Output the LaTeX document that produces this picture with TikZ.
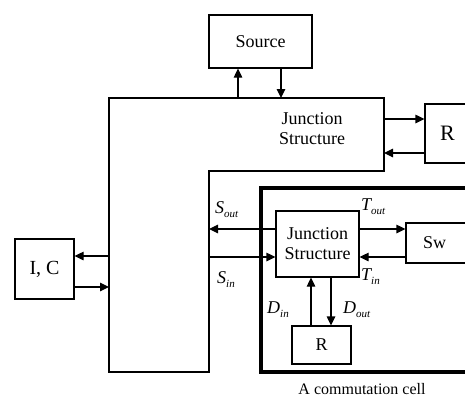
\documentclass[tikz,border=0pt]{standalone}
\usepackage{fontspec}
\setmainfont{Liberation Serif}
\usetikzlibrary{arrows.meta}
\newcommand{\sublbl}[2]{{\fontsize{18}{20}\selectfont\itshape #1\raisebox{-4pt}{\fontsize{11}{12}\selectfont #2}}}
\tikzset{
  x=1pt, y=-1pt,
  box/.style={draw, line width=1.2pt, inner sep=0pt, font=\fontsize{18}{20}\selectfont},
  arr/.style={line width=1.2pt, -{Triangle[length=9pt,width=8.5pt]}},
  ln/.style={line width=1.2pt},
  lbl/.style={anchor=base west, inner sep=0pt},
}
\begin{document}
\begin{tikzpicture}
\useasboundingbox (0,0) rectangle (465,397);
\begin{scope}
\clip (0,0) rectangle (465,397);
% big junction structure outline
\coordinate (J1) at (109,98);
\coordinate (J2) at (384,98);
\coordinate (J3) at (384,171);
\coordinate (J4) at (209,171);
\coordinate (J5) at (209,372);
\coordinate (J6) at (109,372);
\draw[ln] (J1) -- (J2) -- (J3) -- (J4) -- (J5) -- (J6) -- cycle;
\node[font=\fontsize{18}{20}\selectfont, align=center] (jst) at (312,129) {Junction\\Structure};

% source
\node[box, minimum width=103pt, minimum height=53pt] (src) at (260.5,41.5) {Source};
% right R
\node[box, minimum width=45pt, minimum height=59pt, font=\fontsize{22}{24}\selectfont] (rr) at (447.5,133.5) {R};

% commutation cell
\node[draw, line width=4pt, minimum width=214pt, minimum height=184pt, inner sep=0pt] (cell) at (368,280) {};
\node[box, minimum width=83pt, minimum height=66pt, align=center] (js2) at (317.5,244) {Junction\\Structure};
\node[box, minimum width=69pt, minimum height=40pt, text width=69pt, align=left] (sw) at (440.5,243) {\hspace{17pt}Sw};
\node[box, minimum width=59pt, minimum height=38pt] (r2) at (321.5,345) {R};
\node[box, minimum width=59pt, minimum height=60pt, font=\fontsize{20}{22}\selectfont] (ic) at (44.5,269) {I, C};
\end{scope}

% helper coordinates
\coordinate (sA) at ([xshift=-22.5pt]src.south);
\coordinate (sB) at ([xshift=20.5pt]src.south);
\coordinate (rA) at ([yshift=14.5pt]rr.west);
\coordinate (rB) at ([yshift=-19.5pt]rr.west);
\coordinate (iA) at ([yshift=13pt]ic.east);
\coordinate (iB) at ([yshift=-18pt]ic.east);
\coordinate (jA) at ([yshift=15pt]js2.west);
\coordinate (jB) at ([yshift=-13pt]js2.west);
\coordinate (kA) at ([yshift=15pt]js2.east);
\coordinate (kB) at ([yshift=-13pt]js2.east);
\coordinate (dA) at ([xshift=-10.5pt]r2.north);
\coordinate (dB) at ([xshift=9.5pt]r2.north);

% arrows to/from source
\draw[arr] (sA |- J1) -- (sA);
\draw[arr] (sB) -- (sB |- J1);
% arrows to/from right R
\draw[arr] (J2 |- rA) -- (rA);
\draw[arr] (rB) -- (J2 |- rB);
% I, C
\draw[arr] (J1 |- iA) -- (iA);
\draw[arr] (iB) -- (J1 |- iB);
% S arrows
\draw[arr] (jA) -- (J4 |- jA);
\draw[arr] (J4 |- jB) -- (jB);
% T arrows
\draw[arr] (kA) -- (kA -| sw.west);
\draw[arr] (kB -| sw.west) -- (kB);
% D arrows
\draw[arr] (dA) -- (dA |- js2.south);
\draw[arr] (dB |- js2.south) -- (dB);

% labels
\node[lbl] (sout) at (215,213) {\sublbl{S}{out}};
\node[lbl] (sin) at (217,283) {\sublbl{S}{in}};
\node[lbl] (tout) at (361,210) {\sublbl{T}{out}};
\node[lbl] (tin) at (361,280) {\sublbl{T}{in}};
\node[lbl] (din) at (267,313) {\sublbl{D}{in}};
\node[lbl] (dout) at (343,313) {\sublbl{D}{out}};
\node[font=\fontsize{16}{18}\selectfont] (cap) at (362,389) {A commutation cell};
\end{tikzpicture}
\end{document}
